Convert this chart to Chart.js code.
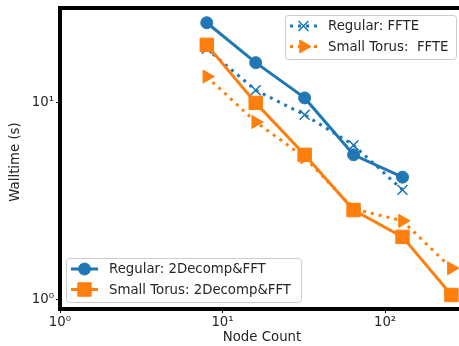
<!DOCTYPE html>
<html>
<head>
<meta charset="utf-8">
<script src="https://cdn.jsdelivr.net/npm/chart.js@4"></script>
<style>
  html, body { margin: 0; padding: 0; background: #fff; }
  canvas { display: block; }
</style>
</head>
<body>
<canvas id="c" width="459" height="346"></canvas>
<script>
// Walltime vs node count, log-log.
const nodesA = [8, 16, 32, 64, 128];
const nodesB = [8, 16, 32, 64, 128, 256];
const regular2d = [25.5, 16.0, 10.6, 5.45, 4.2];
const torus2d = [19.7, 10.0, 5.45, 2.86, 2.09, 1.06];
const regularFfte = [18.8, 11.6, 8.7, 6.1, 3.62];
const torusFfte = [13.6, 8.0, 5.3, 2.9, 2.52, 1.45];
const xTicks = [1, 10, 100];
const yTicks = [1, 10];
const SUP = { 0: "\u2070", 1: "\u00b9", 2: "\u00b2" };

const BLUE = "#1f77b4", ORANGE = "#ff7f0e", FONT = "'DejaVu Sans', sans-serif";

const pts = (xs, ys) => xs.map((x, i) => ({ x, y: ys[i] }));
const tickLabel = v => "10" + SUP[Math.round(Math.log10(v))];

const series = [
  { label: "Regular: 2Decomp&FFT", data: pts(nodesA, regular2d), color: BLUE,
    style: "circle", r: 6, dash: [], order: 3 },
  { label: "Small Torus: 2Decomp&FFT", data: pts(nodesB, torus2d), color: ORANGE,
    style: "rect", r: 9.5, dash: [], order: 1 },
  { label: "Regular: FFTE", data: pts(nodesA, regularFfte), color: BLUE,
    style: "crossRot", r: 7, dash: [3, 5], order: 2 },
  { label: "Small Torus:  FFTE", data: pts(nodesB, torusFfte), color: ORANGE,
    style: "triangle", r: 7.5, dash: [3, 5], order: 0, rot: 90 },
];

// draws the two matplotlib-style legends, axis titles and the thick spines
const decor = {
  id: "decor",
  afterDatasetsDraw(chart) {
    const ctx = chart.ctx, a = chart.chartArea;
    ctx.save();
    ctx.strokeStyle = "#000";
    ctx.lineWidth = 4;
    ctx.beginPath();
    ctx.moveTo(chart.width, a.top); ctx.lineTo(a.left, a.top);
    ctx.lineTo(a.left, a.bottom); ctx.lineTo(chart.width, a.bottom);
    ctx.stroke();

    const legend = (x, y, w, h, items) => {
      ctx.beginPath();
      ctx.roundRect(x + 0.5, y + 0.5, w, h, 3);
      ctx.fillStyle = "rgba(255,255,255,0.8)";
      ctx.fill();
      ctx.strokeStyle = "#cccccc"; ctx.lineWidth = 1; ctx.stroke();
      items.forEach((s, i) => {
        const cy = y + 11 + i * 20.5, lx = x + 5;
        ctx.strokeStyle = s.color; ctx.fillStyle = s.color;
        ctx.lineWidth = 3; ctx.setLineDash(s.dash);
        ctx.beginPath(); ctx.moveTo(lx, cy); ctx.lineTo(lx + 27, cy); ctx.stroke();
        ctx.setLineDash([]);
        ctx.lineWidth = s.style === "crossRot" ? 1.5 : 1;
        Chart.helpers.drawPoint(ctx, { pointStyle: s.style, radius: s.r, rotation: s.rot || 0, borderWidth: ctx.lineWidth }, lx + 13.5, cy);
        ctx.fillStyle = "#262626"; ctx.font = "13.3px " + FONT;
        ctx.textAlign = "left"; ctx.textBaseline = "middle";
        ctx.fillText(s.label, x + 43, cy + 1);
      });
    };
    legend(285, 15, 171, 44, [series[2], series[3]]);
    legend(66, 258, 235, 44, [series[0], series[1]]);

    ctx.fillStyle = "#262626"; ctx.font = "13.3px " + FONT;
    ctx.textAlign = "center"; ctx.textBaseline = "middle";
    ctx.fillText("Node Count", 262, 338);
    ctx.translate(16, 162); ctx.rotate(-Math.PI / 2);
    ctx.fillText("Walltime (s)", 0, 0);
    ctx.restore();
  }
};

new Chart(document.getElementById("c"), {
  type: "line",
  data: {
    datasets: series.map(s => ({
      label: s.label, data: s.data, order: s.order,
      borderColor: s.color, backgroundColor: s.color, borderWidth: 3,
      borderDash: s.dash, tension: 0,
      pointStyle: s.style, pointRadius: s.r, pointRotation: s.rot || 0,
      pointBackgroundColor: s.color, pointBorderColor: s.color,
      pointBorderWidth: s.style === "crossRot" ? 1.5 : 1,
    })),
  },
  plugins: [decor],
  options: {
    responsive: false, animation: false,
    layout: { autoPadding: false, padding: { top: 8, right: 0, left: 0, bottom: 0 } },
    plugins: { legend: { display: false }, tooltip: { enabled: false } },
    scales: {
      x: {
        type: "logarithmic", min: 1, max: 285,
        afterFit: s => { s.height = 37; s.paddingLeft = 0; s.paddingRight = 0; },
        afterBuildTicks: s => { s.ticks = xTicks.map(v => ({ value: v })); },
        border: { display: false },
        grid: { drawOnChartArea: false, drawTicks: true, tickLength: 4, color: "#000" },
        ticks: { callback: tickLabel, color: "#262626", padding: 2, maxRotation: 0,
                 font: { family: FONT, size: 13.3 } },
      },
      y: {
        type: "logarithmic", min: 0.9, max: 30.3,
        afterFit: s => { s.width = 60; s.paddingTop = 0; s.paddingBottom = 0; },
        afterBuildTicks: s => { s.ticks = yTicks.map(v => ({ value: v })); },
        border: { display: false },
        grid: { drawOnChartArea: false, drawTicks: true, tickLength: 4, color: "#000" },
        ticks: { callback: tickLabel, color: "#262626", padding: 2,
                 font: { family: FONT, size: 13.3 } },
      },
    },
  },
});
</script>
</body>
</html>
